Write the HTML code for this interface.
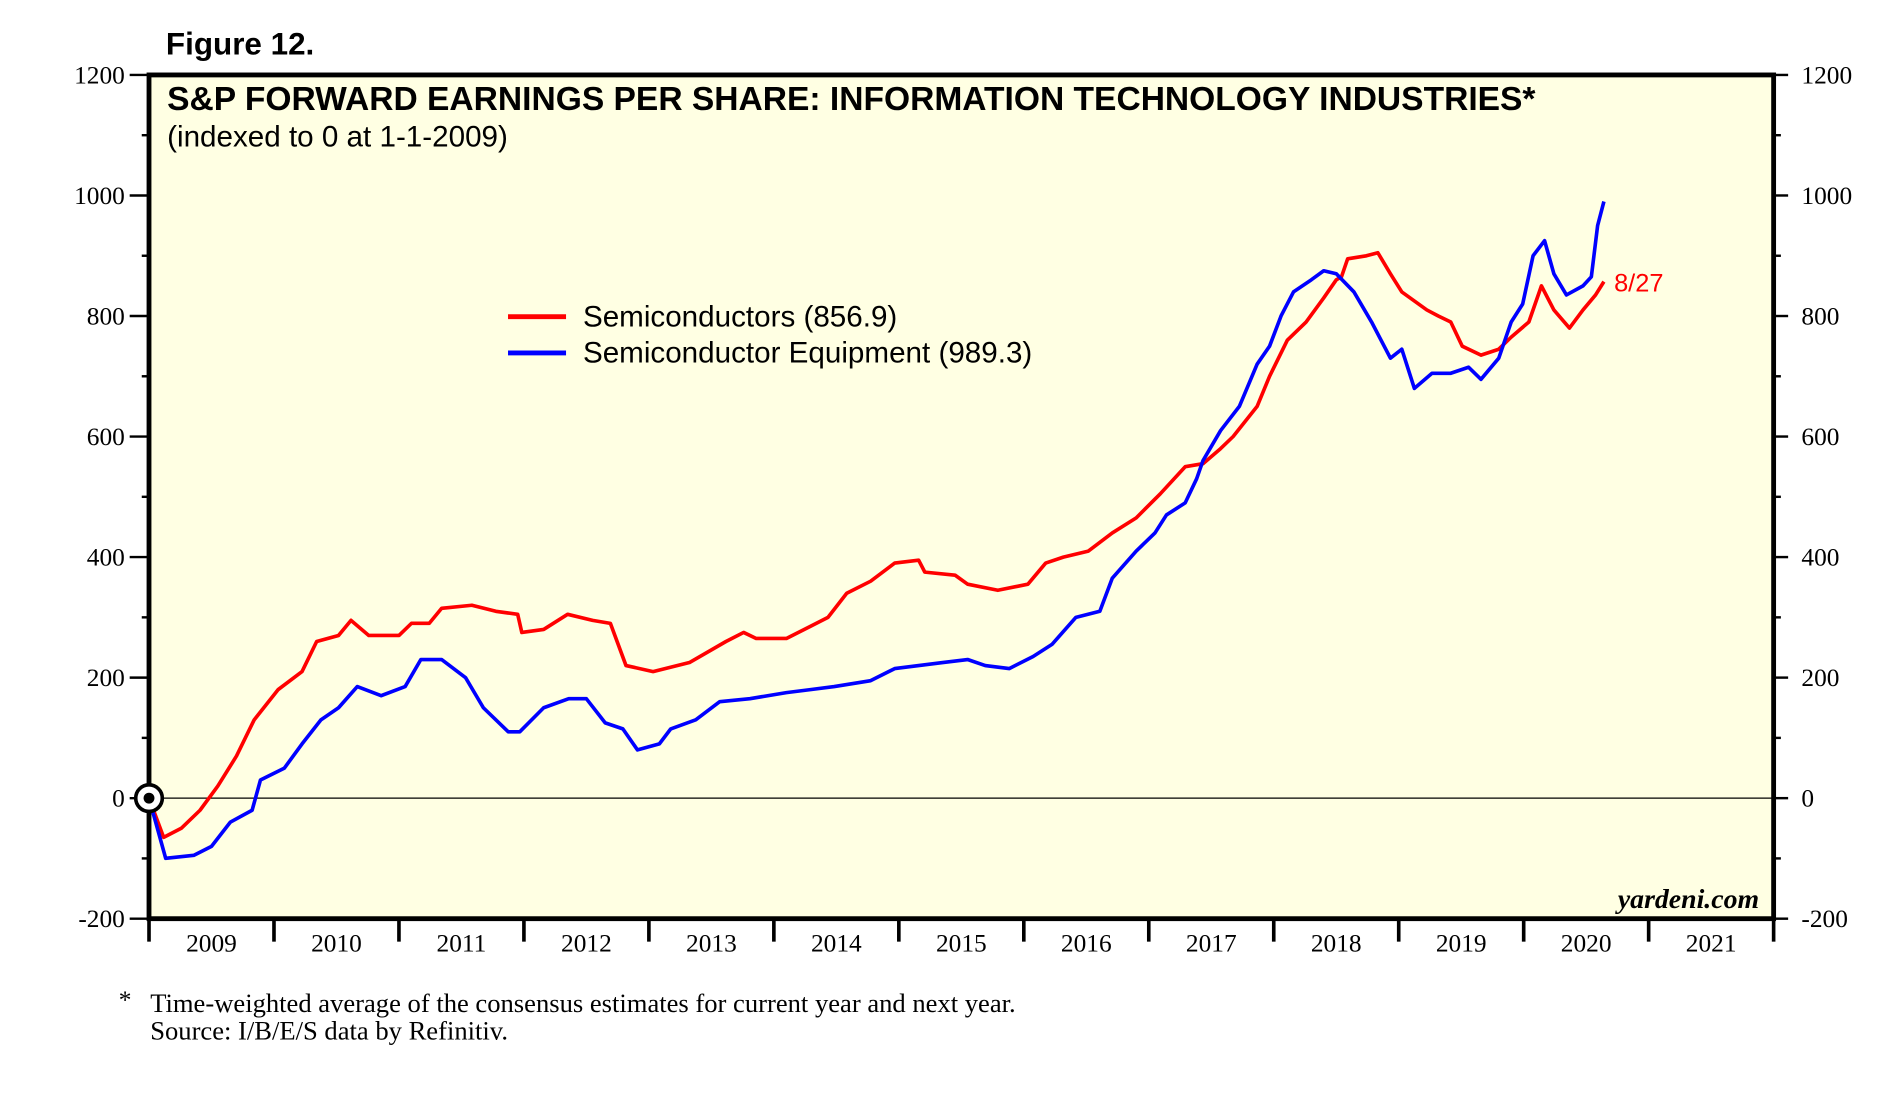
<!DOCTYPE html>
<html><head><meta charset="utf-8"><style>
html,body{margin:0;padding:0;background:#fff}
svg{display:block}
.tk{font-family:"Liberation Serif",serif;font-size:21px;fill:#000}
</style></head><body>
<svg id="chart" width="1890" height="1100" viewBox="0 0 1563 910" xmlns="http://www.w3.org/2000/svg">
<text x="137" y="45" font-family="Liberation Sans, sans-serif" font-weight="bold" font-size="26">Figure 12.</text>
<rect x="123" y="62" width="1344" height="698" fill="#ffffe3" stroke="#000" stroke-width="4"/>
<text x="138" y="91" font-family="Liberation Sans, sans-serif" font-weight="bold" font-size="27.6" textLength="1132" lengthAdjust="spacingAndGlyphs">S&amp;P FORWARD EARNINGS PER SHARE: INFORMATION TECHNOLOGY INDUSTRIES*</text>
<text x="138" y="121" font-family="Liberation Sans, sans-serif" font-size="24.5">(indexed to 0 at 1-1-2009)</text>
<g id="axes"></g>
<g id="series"></g>
<g>
<line x1="420" y1="262" x2="468" y2="262" stroke="#f00" stroke-width="4"/>
<text x="482" y="270" font-family="Liberation Sans, sans-serif" font-size="24.5">Semiconductors (856.9)</text>
<line x1="420" y1="292" x2="468" y2="292" stroke="#00f" stroke-width="4"/>
<text x="482" y="300" font-family="Liberation Sans, sans-serif" font-size="24.5">Semiconductor Equipment (989.3)</text>
</g>
<text x="1335" y="241" font-family="Liberation Sans, sans-serif" font-size="21" fill="#f00">8/27</text>
<text x="1455" y="751" text-anchor="end" font-family="Liberation Serif, serif" font-style="italic" font-weight="bold" font-size="23">yardeni.com</text>
<text x="98" y="834" font-family="Liberation Serif, serif" font-size="21">*</text>
<text x="124" y="837" font-family="Liberation Serif, serif" font-size="22">Time-weighted average of the consensus estimates for current year and next year.</text>
<text x="124" y="860" font-family="Liberation Serif, serif" font-size="22">Source: I/B/E/S data by Refinitiv.</text>
</svg>
<script>
// months since Jan 2009
const semiMonths=[0,1.4,3.1,4.9,6.6,8.4,10.1,12.4,14.7,16.1,18.2,19.4,21.1,24.0,25.2,26.9,28.1,31.0,33.3,35.4,35.8,37.9,40.2,42.6,44.3,45.8,48.4,51.9,55.4,57.1,58.3,61.2,63.5,65.2,67.0,69.3,71.6,73.9,74.5,77.4,78.6,81.5,84.4,86.1,87.8,90.2,92.5,94.8,97.1,99.5,101.2,102.9,104.1,106.4,107.6,109.3,111.1,112.8,114.0,114.5,115.1,116.9,118.0,119.2,120.3,122.7,123.8,125.0,126.1,127.9,129.6,130.8,132.5,133.7,134.9,136.4,137.7,138.9,139.7];
const semiValues=[0,-65,-50,-20,20,70,130,180,210,260,270,295,270,270,290,290,315,320,310,305,275,280,305,295,290,220,210,225,260,275,265,265,285,300,340,360,390,395,375,370,355,345,355,390,400,410,440,465,505,550,555,580,600,650,700,760,790,830,860,865,895,900,905,870,840,810,800,790,750,735,745,765,790,850,810,780,810,835,857];
const equipMonths=[0,1.6,4.3,6.0,7.8,9.9,10.7,13.0,14.7,16.5,18.2,20.0,22.3,24.6,26.1,28.1,30.4,32.1,34.5,35.6,37.9,40.3,42.0,43.8,45.5,46.9,49.0,50.1,52.5,54.8,57.7,61.2,63.5,65.8,69.3,71.6,73.9,76.2,78.6,80.3,82.6,84.9,86.7,89.0,91.3,92.5,94.8,96.6,97.7,99.5,100.6,101.2,102.9,104.7,106.4,107.6,108.7,109.9,111.6,112.8,114.0,115.7,117.4,119.2,120.3,121.5,123.2,125.0,126.7,127.9,129.6,130.8,131.9,132.9,134.0,134.9,136.1,137.7,138.5,139.1,139.7];
const equipValues=[0,-100,-95,-80,-40,-20,30,50,90,130,150,185,170,185,230,230,200,150,110,110,150,165,165,125,115,80,90,115,130,160,165,175,180,185,195,215,220,225,230,220,215,235,255,300,310,365,410,440,470,490,530,560,610,650,720,750,800,840,860,875,870,840,790,730,745,680,705,705,715,695,730,790,820,900,925,870,835,850,865,950,990];
const yearLabels=["2009","2010","2011","2012","2013","2014","2015","2016","2017","2018","2019","2020","2021"];
const yTicks=[-200,0,200,400,600,800,1000,1200];

const NS="http://www.w3.org/2000/svg";
const L=123,R=1467,T=62,B=760;
const x=m=>L+m*(R-L)/(yearLabels.length*12);
const y=v=>B-(v+200)*(B-T)/1400;
function mk(tag,attrs,parent){const e=document.createElementNS(NS,tag);for(const k in attrs)e.setAttribute(k,attrs[k]);parent.appendChild(e);return e;}
const ax=document.getElementById('axes');
const z=mk('line',{x1:L,x2:R,y1:y(0),y2:y(0),stroke:'#000','stroke-width':1},ax);


for(let v=-200;v<=1200;v+=100){
  const maj=yTicks.includes(v);
  const lt=mk('line',{x1:L-(maj?16:6),x2:L,y1:y(v),y2:y(v),stroke:'#000','stroke-width':2},ax);
  
  
  const rt=mk('line',{x1:R,x2:R+(maj?12:6),y1:y(v),y2:y(v),stroke:'#000','stroke-width':2},ax);
  
  
}
yTicks.forEach(v=>{
  const a=mk('text',{x:103,y:y(v)+7,'text-anchor':'end',class:'tk'},ax);a.textContent=v;
  
  
  const b=mk('text',{x:1490,y:y(v)+7,class:'tk'},ax);b.textContent=v;
  
  
});
yearLabels.forEach((yr,i)=>{
  const t=mk('line',{x1:x(i*12),x2:x(i*12),y1:B,y2:B+19,stroke:'#000','stroke-width':3},ax);
  
  
  const lb=mk('text',{x:x(i*12+6),y:B+27,'text-anchor':'middle',class:'tk'},ax);lb.textContent=yr;
  
  
});
const lt=mk('line',{x1:R,x2:R,y1:B,y2:B+19,stroke:'#000','stroke-width':3},ax);


const sg=document.getElementById('series');
function line(ms,vs,col,name){
  const d=ms.map((m,i)=>(i?'L':'M')+x(m).toFixed(1)+','+y(vs[i]).toFixed(1)).join('');
  const p=mk('path',{d:d,fill:'none',stroke:col,'stroke-width':3,'stroke-linejoin':'round'},sg);
  
  
}
line(semiMonths,semiValues,'#f00','semiconductors-line');
line(equipMonths,equipValues,'#00f','semi-equipment-line');
const c1=mk('circle',{cx:L,cy:y(0),r:11,fill:'#fff',stroke:'#000','stroke-width':3},sg);


const c2=mk('circle',{cx:L,cy:y(0),r:4.5,fill:'#000'},sg);


</script>
</body></html>
